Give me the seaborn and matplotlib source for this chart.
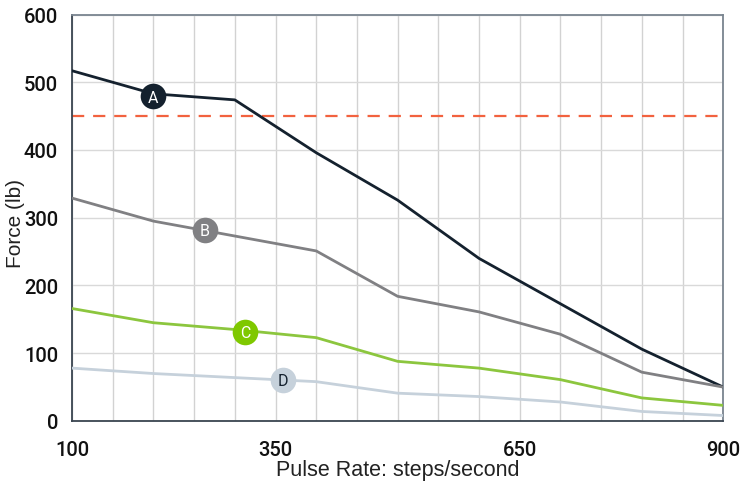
import pandas as pd
import matplotlib
matplotlib.use('Agg')
import matplotlib.pyplot as plt
import seaborn as sns
from matplotlib.ticker import MultipleLocator, FixedLocator

# pulse rate (steps/second) and force (lb) per curve
pulse_rate = [100, 200, 300, 400, 500, 600, 700, 800, 900]
force_a = [517, 483, 474, 396, 326, 240, 173, 106, 50]
force_b = [329, 295, 273, 251, 184, 161, 128, 72, 50]
force_c = [166, 145, 135, 123, 88, 78, 61, 34, 23]
force_d = [78, 70, 64, 58, 41, 36, 28, 14, 8]
curve_names = ['A', 'B', 'C', 'D']
limit_force = 450
x_tick_labels = [100, 350, 650, 900]

# where the letter badges sit on each curve
badge_x = [200, 263, 313, 359]
badge_y = [479, 282, 132, 61]

colors = {'A': '#14212e', 'B': '#808083', 'C': '#8cc63e', 'D': '#c6d1db'}
badge_fill = {'A': '#14212e', 'B': '#808083', 'C': '#7fc800', 'D': '#c6d1db'}
badge_text = {'A': 'white', 'B': 'white', 'C': 'white', 'D': '#14212e'}

df = pd.DataFrame({
    'Pulse': pulse_rate * 4,
    'Force': force_a + force_b + force_c + force_d,
    'Curve': [n for n in curve_names for _ in pulse_rate],
})

sns.set_style("white")
plt.rcParams['font.family'] = ['Liberation Sans', 'DejaVu Sans']
narrow = ['Roboto', 'DejaVu Sans']

fig = plt.figure(figsize=(7.4, 4.85), dpi=100)
ax = fig.add_axes([0.0973, 0.130, 0.880, 0.838])

ax.axhline(limit_force, color='#f2623f', linestyle=(0, (5.5, 4)), linewidth=1.6, zorder=2)

sns.lineplot(data=df, x='Pulse', y='Force', hue='Curve', palette=colors,
             linewidth=2.0, legend=False, ax=ax, zorder=3)

for name, bx, by in zip(curve_names, badge_x, badge_y):
    ax.scatter([bx], [by], s=340, color=badge_fill[name], zorder=5, linewidths=0)
    ax.text(bx, by - 1, name, ha='center', va='center', fontsize=11.5,
            color=badge_text[name], family=narrow, zorder=6)

ax.set_xlim(100, 900)
ax.set_ylim(0, 600)
ax.xaxis.set_major_locator(FixedLocator(x_tick_labels))
ax.xaxis.set_minor_locator(MultipleLocator(50))
ax.yaxis.set_major_locator(MultipleLocator(100))

ax.grid(which='minor', axis='x', color='#d2d2d2', linewidth=1.0)
ax.grid(which='major', axis='x', color='#d2d2d2', linewidth=1.0)
ax.grid(which='major', axis='y', color='#d9d9d9', linewidth=1.0)
ax.set_axisbelow(True)

ax.tick_params(axis='both', which='both', length=0)
ax.tick_params(axis='x', pad=14)
ax.tick_params(axis='y', pad=10)
for lab in ax.get_xticklabels() + ax.get_yticklabels():
    lab.set_family(narrow)
    lab.set_fontsize(14.5)
    lab.set_fontweight('medium')
    lab.set_color('#111111')

ax.set_xlabel('Pulse Rate: steps/second', fontsize=15.5, color='#222222', labelpad=0)
ax.set_ylabel('Force (lb)', fontsize=15, color='#222222')
ax.yaxis.set_label_coords(-0.072, 0.489)

for side in ['left', 'bottom']:
    ax.spines[side].set_color('#3a4550')
    ax.spines[side].set_linewidth(1.3)
for side in ['top', 'right']:
    ax.spines[side].set_color('#7a8590')
    ax.spines[side].set_linewidth(1.3)

plt.savefig('out.png', dpi=100)
